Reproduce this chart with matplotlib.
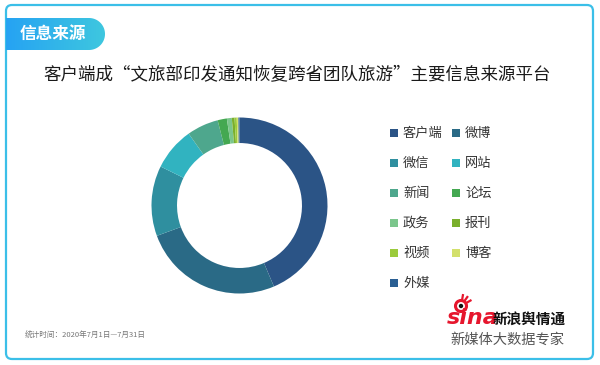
import matplotlib
matplotlib.use("Agg")
import matplotlib.pyplot as plt
import numpy as np
from matplotlib.patches import FancyBboxPatch, Rectangle, PathPatch, Circle
from matplotlib.path import Path
from matplotlib.colors import LinearSegmentedColormap

plt.rcParams['font.family'] = ['Noto Sans CJK SC', 'DejaVu Sans']

# data
labels = ["客户端", "微博", "微信", "网站", "新闻", "论坛", "政务", "报刊", "视频", "博客", "外媒"]
shares = [43.6, 25.8, 12.9, 7.9, 5.8, 1.7, 0.9, 0.5, 0.4, 0.3, 0.2]
colors = ["#2b5486", "#2a6a86", "#2f8f9f", "#31b3c0", "#4ea78d", "#44a851",
          "#7bc68c", "#7aaf2c", "#9bcb3c", "#d3e06c", "#2a5f93"]

title = "客户端成“文旅部印发通知恢复跨省团队旅游”主要信息来源平台"
tab_text = "信息来源"
footer = "统计时间：2020年7月1日—7月31日"
slogan = "新媒体大数据专家"

W, H = 600, 365
fig = plt.figure(figsize=(W / 100, H / 100), dpi=100)
fig.patch.set_facecolor("white")

# background axes in pixel coords
bg = fig.add_axes([0, 0, 1, 1])
bg.set_xlim(0, W)
bg.set_ylim(H, 0)
bg.axis("off")

# outer rounded border
bg.add_patch(FancyBboxPatch((6, 5), 587, 354, boxstyle="round,pad=0,rounding_size=6",
                            fill=False, edgecolor="#3bbfe8", linewidth=1.6))

# header tab with gradient
r = 16
x0, x1, y0, y1 = 6, 105, 18, 50
t = np.linspace(-np.pi / 2, np.pi / 2, 40)
arc = np.column_stack([x1 - r + r * np.cos(t), (y0 + y1) / 2 + r * np.sin(t)])
verts = np.vstack([[x0, y0], arc, [x0, y1], [x0, y0]])
tab = PathPatch(Path(verts, closed=True), facecolor="none", edgecolor="none")
bg.add_patch(tab)
cmap = LinearSegmentedColormap.from_list("tab", ["#26a3f3", "#3ec7df"])
grad = np.linspace(0, 1, 200).reshape(1, -1)
im = bg.imshow(grad, cmap=cmap, extent=[x0, x1, y1, y0], aspect="auto", zorder=2)
im.set_clip_path(tab)
bg.set_xlim(0, W)
bg.set_ylim(H, 0)
bg.text(20, 34, tab_text, color="white", fontsize=12, fontweight="bold",
        ha="left", va="center", zorder=3)

# title
bg.text(297, 75, title, color="#1a1a1a", fontsize=12.6, fontweight="medium",
        ha="center", va="center")

# legend (row-wise, two columns)
for i, (lab, col) in enumerate(zip(labels, colors)):
    row, c = divmod(i, 2)
    x = 390 + c * 62
    y = 133 + row * 30
    bg.add_patch(Rectangle((x, y - 4), 8, 8, facecolor=col, edgecolor="none"))
    bg.text(x + 13, y, lab, fontsize=9.5, color="#333333", ha="left", va="center")

# footer
bg.text(25, 336, footer, fontsize=5.5, color="#777777", ha="left", va="center")

# sina logo (approximation)
bg.add_patch(Circle((461, 306), 5.5, facecolor="none", edgecolor="#e6162d", linewidth=2.2))
bg.add_patch(Circle((461, 306), 2.2, facecolor="#111111", edgecolor="none"))
for a in (100, 125, 150):
    aa = np.deg2rad(a)
    bg.plot([461 - 7 * np.cos(aa), 461 - 11 * np.cos(aa)],
            [306 - 7 * np.sin(aa), 306 - 11 * np.sin(aa)], color="#e6162d", lw=1.6)
bg.text(447, 318, "sina", fontsize=16, color="#e6162d", fontweight="heavy",
        fontstyle="italic", family="DejaVu Sans", ha="left", va="center")
bg.text(493, 319, "新浪舆情通", fontsize=10.5, color="#111111", fontweight="bold",
        ha="left", va="center")
bg.text(507, 340, slogan, fontsize=10.3, color="#555555", ha="center", va="center")

# donut
cx, cy, R = 239.5, 205.5, 88
ax = fig.add_axes([(cx - R) / W, (H - cy - R) / H, 2 * R / W, 2 * R / H])
ax.pie(shares, colors=colors, startangle=90, counterclock=False,
       wedgeprops=dict(width=0.29, edgecolor="none"), radius=1)
ax.set_xlim(-1, 1)
ax.set_ylim(-1, 1)
ax.set_aspect("equal")
ax.axis("off")

fig.savefig("out.png", dpi=100, facecolor="white")
